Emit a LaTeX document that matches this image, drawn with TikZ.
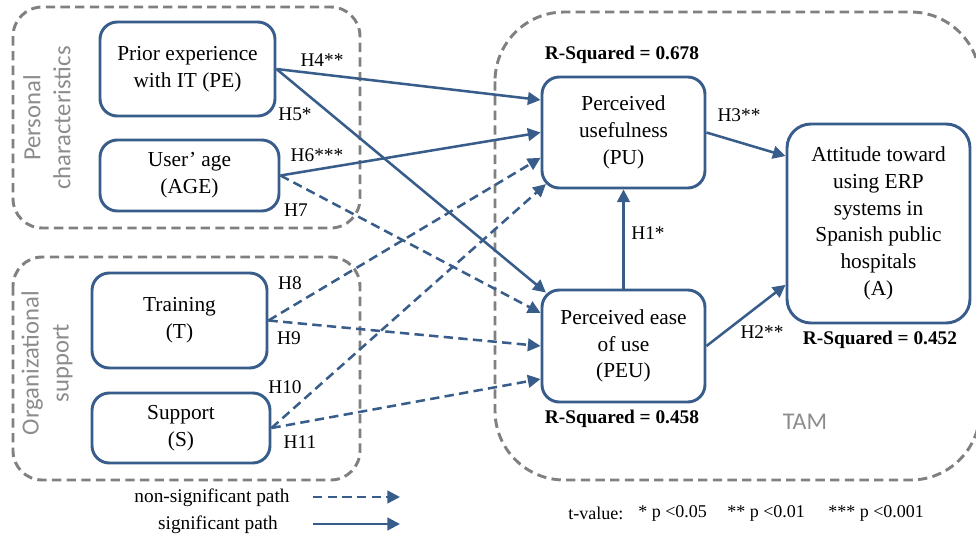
\documentclass[tikz,border=0pt]{standalone}
\usepackage{fontspec}
\setmainfont{Liberation Serif}
\newfontfamily\grpfont{Carlito}
\usetikzlibrary{arrows.meta,calc}

\definecolor{pathblue}{RGB}{56,93,138}
\definecolor{framegray}{RGB}{128,128,128}
\definecolor{labelgray}{RGB}{140,140,140}

\tikzset{
  construct/.style={draw=pathblue, line width=2.2pt, rounded corners=13pt,
    align=center, inner sep=0pt, fill=white,
    font=\fontsize{16}{20}\selectfont},
  frame/.style={draw=framegray, line width=2.2pt, dash pattern=on 7pt off 4pt},
  grplabel/.style={text=labelgray, align=center, inner sep=0pt,
    font=\grpfont\fontsize{18.5}{22.5}\selectfont},
  sigpath/.style={draw=pathblue, line width=1.9pt,
    -{Triangle[length=9.5pt,width=9.5pt]}},
  nspath/.style={sigpath, dash pattern=on 7pt off 4pt},
  hyp/.style={inner sep=0pt, font=\fontsize{14.5}{16}\selectfont},
  rsq/.style={inner sep=0pt, font=\bfseries\fontsize{14.5}{16}\selectfont},
  legtext/.style={inner sep=0pt, font=\fontsize{14.5}{16}\selectfont},
  pvaltext/.style={inner sep=0pt, anchor=west, font=\fontsize{13.5}{16}\selectfont},
}

\begin{document}
\begin{tikzpicture}[x=0.75pt,y=-0.75pt]
\useasboundingbox (0,0) rectangle (976,543);
\clip (0,0) rectangle (976,543);

% group frames
\draw[frame, rounded corners=22pt] (13,7) rectangle (360,228);
\draw[frame, rounded corners=22pt] (13,257) rectangle (360,480);
\draw[frame, rounded corners=52pt] (495,12) rectangle (980,480);

\node[grplabel, rotate=90] (pclab) at (47,118) {Personal\\characteristics};
\node[grplabel, rotate=90] (oslab) at (47,363) {Organizational\\support};
\node[grplabel, font=\grpfont\fontsize{18}{20}\selectfont] (tamlab) at (805,422) {TAM};

% constructs
\node[construct, minimum width=131.25pt, minimum height=70.5pt] (PE) at (187.5,69)
  {Prior experience\\with IT (PE)};
\node[construct, minimum width=134.25pt, minimum height=53.25pt] (AGE) at (189.5,175.5)
  {User’ age\\(AGE)};
\node[construct, minimum width=131.25pt, minimum height=71.25pt] (T) at (179.5,320.5)
  {Training\\(T)};
\node[construct, minimum width=133.5pt, minimum height=52.5pt] (S) at (181,428)
  {Support\\(S)};
\node[construct, minimum width=122.25pt, minimum height=83.25pt] (PU) at (623.5,132.5)
  {Perceived\\usefulness\\(PU)};
\node[construct, minimum width=122.25pt, minimum height=84pt] (PEU) at (623.5,346)
  {Perceived ease\\of use\\(PEU)};
\node[construct, minimum width=137.25pt, minimum height=149.25pt, rounded corners=18pt]
  (A) at (878.5,223.5)
  {Attitude toward\\using ERP\\systems in\\Spanish public\\hospitals\\(A)};

% explained variance
\node[rsq] (rPU) at (622,55) {R-Squared = 0.678};
\node[rsq] (rPEU) at (622,419) {R-Squared = 0.458};
\node[rsq] (rA) at (880,340) {R-Squared = 0.452};

% hypothesised paths
\draw[sigpath] (PE.east) -- ([yshift=24.4pt]PU.west);
\draw[sigpath] (PE.east) -- ([xshift=4pt,yshift=-3pt]PEU.north west);
\draw[sigpath] (AGE.east) -- (PU.west);
\draw[nspath] (AGE.east) -- ([yshift=24.75pt]PEU.west);
\draw[nspath] (T.east) -- ([yshift=-19pt]PU.west);
\draw[nspath] (T.east) -- (PEU.west);
\draw[nspath] (S.east) -- ([xshift=4pt,yshift=4pt]PU.south west);
\draw[nspath] (S.east) -- ([yshift=-24.75pt]PEU.west);
\draw[sigpath] (PEU.north) -- (PU.south);
\draw[sigpath] (PU.east) -- ([yshift=50.6pt]A.west);
\draw[sigpath] (PEU.east) -- ([yshift=-46pt]A.west);

% path labels
\node[hyp] (h4) at (322,60) {H4**};
\node[hyp] (h5) at (295,114) {H5*};
\node[hyp] (h6) at (317,155) {H6***};
\node[hyp] (h7) at (296,210) {H7};
\node[hyp] (h8) at (290,283) {H8};
\node[hyp] (h9) at (289,338) {H9};
\node[hyp] (h10) at (285,387) {H10};
\node[hyp] (h11) at (300,442) {H11};
\node[hyp] (h1) at (648,233) {H1*};
\node[hyp] (h3) at (739,115) {H3**};
\node[hyp] (h2) at (762,332) {H2**};

% legend
\node[legtext] (lns) at (212,498) {non-significant path};
\node[legtext] (lsig) at (218,525) {significant path};
\coordinate (lnsA) at (313,497);
\coordinate (lnsB) at (400,497);
\coordinate (lsigA) at (313,524);
\coordinate (lsigB) at (400,524);
\draw[nspath] (lnsA) -- (lnsB);
\draw[sigpath] (lsigA) -- (lsigB);

\node[pvaltext] (tv) at (568,513) {t-value:};
\node[pvaltext] (p1) at (638,513) {* p <0.05};
\node[pvaltext] (p2) at (727,513) {** p <0.01};
\node[pvaltext] (p3) at (828,513) {*** p <0.001};
\end{tikzpicture}
\end{document}
